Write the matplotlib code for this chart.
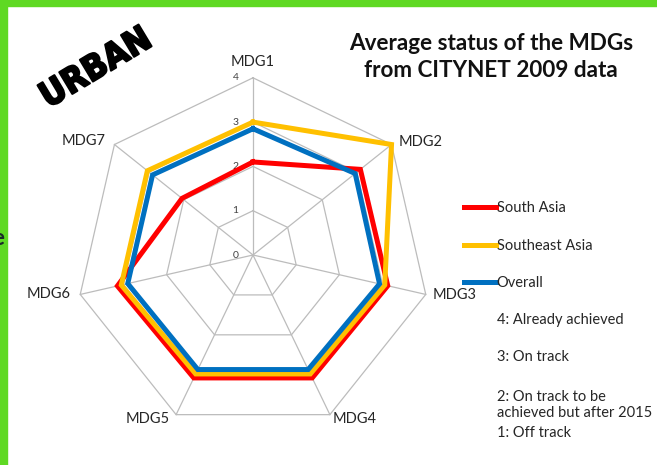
import numpy as np
import matplotlib
matplotlib.use("Agg")
import matplotlib.pyplot as plt
import matplotlib.patheffects as pe

# data (status scale 0-4)
goals = ["MDG1", "MDG2", "MDG3", "MDG4", "MDG5", "MDG6", "MDG7"]
south_asia = [2.1, 3.1, 3.12, 3.08, 3.08, 3.14, 2.05]
southeast_asia = [3.0, 4.0, 3.05, 2.98, 2.98, 3.05, 3.05]
overall = [2.85, 2.95, 2.93, 2.87, 2.87, 2.9, 2.9]
levels = [0, 1, 2, 3, 4]
notes = ["4: Already achieved", "3: On track", "2: On track to be\nachieved but after 2015", "1: Off track"]

W, H = 657, 465
cx, cy, unit = 253, 255, 44.3   # pixel centre of the web and pixels per unit

plt.rcParams['font.family'] = ['Lato', 'DejaVu Sans']
fig = plt.figure(figsize=(W / 100, H / 100), dpi=100)
fig.patch.set_facecolor("white")
ax = fig.add_axes([0, 0, 1, 1])
ax.set_xlim(-cx / unit, (W - cx) / unit)
ax.set_ylim(-(H - cy) / unit, cy / unit)
ax.axis("off")

n = len(goals)
ang = np.pi / 2 - np.arange(n) * 2 * np.pi / n


def ring(vals):
    v = np.array(vals, dtype=float)
    x = v * np.cos(ang)
    y = v * np.sin(ang)
    return np.append(x, x[0]), np.append(y, y[0])


grid_col = "#bcbcbc"
for lv in levels[1:]:
    gx, gy = ring([lv] * n)
    ax.plot(gx, gy, color=grid_col, lw=0.9, zorder=1)
top = levels[-1]
for a in ang:
    ax.plot([0, top * np.cos(a)], [0, top * np.sin(a)], color=grid_col, lw=0.9, zorder=1)

for lv in levels:
    ax.text(-0.33, lv, str(lv), ha="right", va="center", fontsize=7.5, color="#404040")

# label offsets from the outer vertex, in pixels (right, down)
lab_off = [(0, -16), (7, -3), (7, 1), (3, 4), (-6, 4), (-10, 0), (-9, -4)]
for i, g in enumerate(goals):
    a = ang[i]
    x, y = top * np.cos(a), top * np.sin(a)
    dx, dy = lab_off[i]
    x += dx / unit
    y -= dy / unit
    if dx == 0:
        ha = "center"
    elif dx > 0:
        ha = "left"
    else:
        ha = "right"
    ax.text(x, y, g, ha=ha, va="center", fontsize=10.5, color="#262626")

series = [("South Asia", south_asia, "#ff0000"),
          ("Southeast Asia", southeast_asia, "#ffc000"),
          ("Overall", overall, "#0070c0")]
handles = []
for k, (name, vals, col) in enumerate(series):
    sx, sy = ring(vals)
    h, = ax.plot(sx, sy, color=col, lw=3.6, solid_joinstyle="miter", zorder=3 + k, label=name)
    handles.append(h)

leg = fig.legend(handles=handles, loc="upper left", bbox_to_anchor=(464 / W, 1 - 201 / H),
                 frameon=False, handlelength=2.2, handletextpad=0.05, labelspacing=1.62,
                 fontsize=10.5, borderaxespad=0, borderpad=0)
for t in leg.get_texts():
    t.set_color("#262626")

note_y = [320, 357, 405, 433]
for txt, y in zip(notes, note_y):
    fig.text(497 / W, 1 - y / H, txt, ha="left", va="center", fontsize=10.5,
             color="#262626", linespacing=1.25)

fig.text(491 / W, 1 - 57 / H, "Average status of the MDGs\nfrom CITYNET 2009 data",
         ha="center", va="center", fontsize=16.2, fontweight="bold", color="#111111",
         linespacing=1.4)

fig.text(96 / W, 1 - 68 / H, "URBAN", ha="center", va="center", rotation=31,
         fontsize=25, fontweight="bold", family="DejaVu Sans", fontstretch="condensed",
         color="black",
         path_effects=[pe.withStroke(linewidth=1.5, foreground="black")])

# green frame on top and left
fig.patches.append(plt.Rectangle((0, 1 - 6.5 / H), 1, 6.5 / H, transform=fig.transFigure,
                                 color="#5fd923", zorder=10))
fig.patches.append(plt.Rectangle((0, 0), 6.5 / W, 1, transform=fig.transFigure,
                                 color="#5fd923", zorder=10))
fig.text(-8 / W, 1 - 238 / H, "e", ha="left", va="center", fontsize=16,
         fontweight="bold", color="#1a2a2a", zorder=11)

fig.savefig("out.png", dpi=100, facecolor="white")
